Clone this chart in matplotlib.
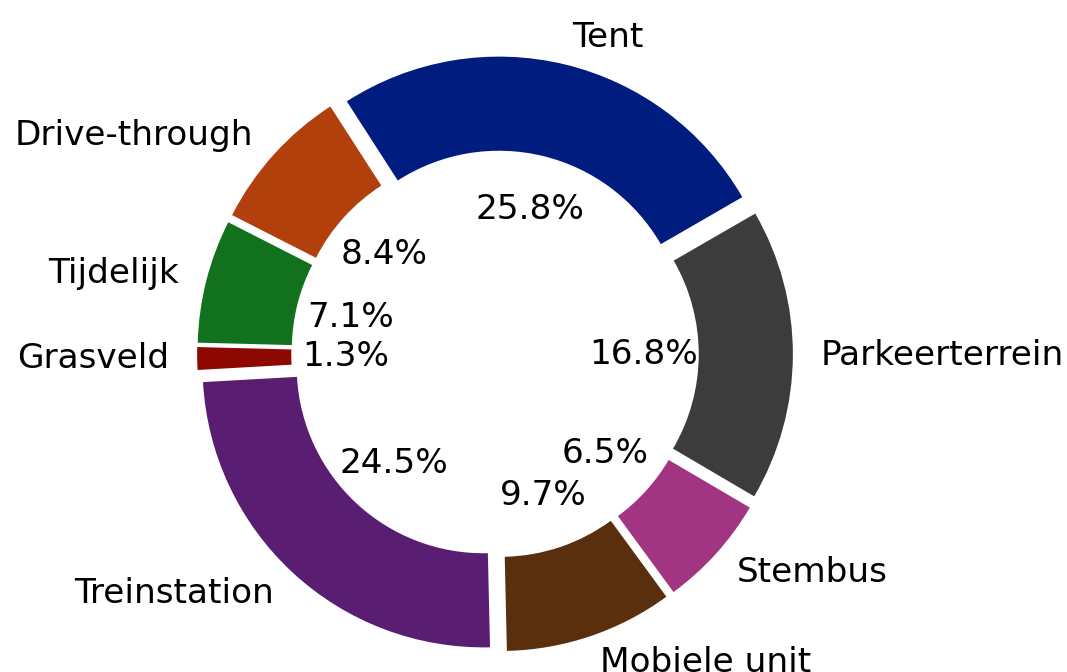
import matplotlib
matplotlib.use('Agg')
import matplotlib.pyplot as plt

labels = ['Tent', 'Drive-through', 'Tijdelijk', 'Grasveld',
          'Treinstation', 'Mobiele unit', 'Stembus', 'Parkeerterrein']
shares = [25.8, 8.4, 7.1, 1.3, 24.5, 9.7, 6.5, 16.8]
colors = ['#001c7f', '#b1400d', '#12711c', '#8c0800',
          '#591e71', '#592f0d', '#a23582', '#3c3c3c']


def main():
    fig = plt.figure(figsize=(10.67, 6.72), dpi=100)
    ax = fig.add_axes([0, 0, 1, 1])

    ax.pie(shares, labels=labels, colors=colors, autopct='%1.1f%%',
           startangle=30, counterclock=True,
           explode=[0.06] * len(shares),
           pctdistance=0.47, labeldistance=1.1,
           wedgeprops=dict(width=0.335),
           textprops=dict(fontsize=24.7))

    # place the donut: centre at (495, 354) px, radius 281 px
    r = 281.0
    ax.set_xlim(-495 / r, (1067 - 495) / r)
    ax.set_ylim(-(672 - 354) / r, 354 / r)
    ax.axis('off')

    fig.savefig('out.png', dpi=100)


if __name__ == '__main__':
    main()
